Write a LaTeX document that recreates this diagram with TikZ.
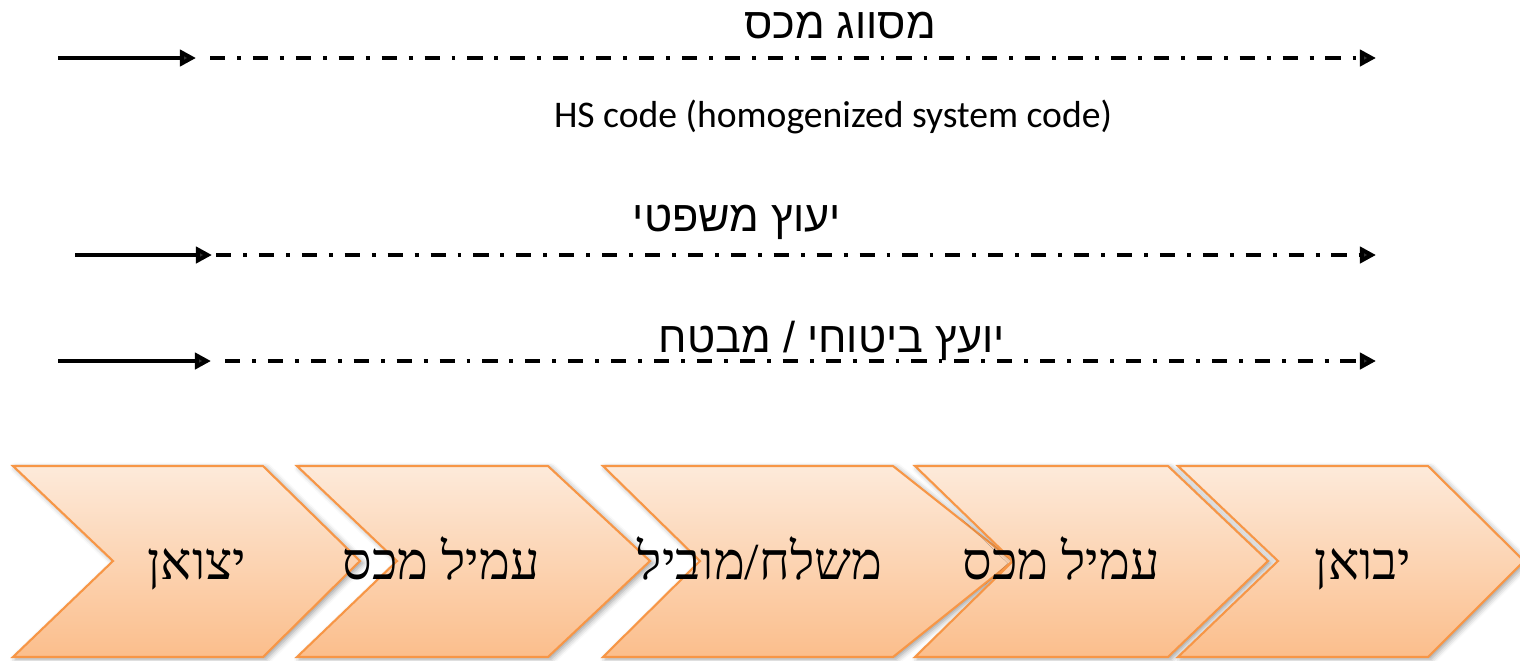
\documentclass[tikz,border=0pt]{standalone}
\usepackage{fontspec}
\usetikzlibrary{arrows.meta,shadows.blur}
\TeXXeTstate=1
\newfontfamily\hebserif[Script=Hebrew]{Liberation Serif}
\newfontfamily\hebsans[Script=Hebrew]{Liberation Sans}
\newfontfamily\latsans{Carlito}
\definecolor{chevline}{RGB}{247,150,70}
\definecolor{chevtop}{RGB}{253,234,218}
\definecolor{chevbot}{RGB}{251,190,140}
\tikzset{
  chevron/.style={draw=chevline, line width=0.6pt, line join=miter,
    top color=chevtop, bottom color=chevbot,
    blur shadow={shadow xshift=0.8pt, shadow yshift=-0.6pt,
      shadow blur radius=1.6pt, shadow opacity=40}},
  chevtext/.style={font=\hebserif\fontsize{14.8}{17}\selectfont, inner sep=0pt, anchor=base},
  roletext/.style={font=\hebsans\fontsize{12.3}{15}\selectfont, inner sep=0pt},
  solidleg/.style={line width=1.15pt, -{Triangle[length=4.6pt,width=4.6pt]}},
  dashleg/.style={line width=1.15pt, dash pattern=on 4.3pt off 3.4pt on 1.1pt off 3.4pt,
    -{Triangle[length=4.6pt,width=4.6pt]}}
}
% chevron: left x, notch x, top-right x, tip x (pixels)
\newcommand{\chevshape}[4]{%
  \path[chevron] (#1,466) -- (#3,466) -- (#4,561) -- (#3,657) -- (#1,657) -- (#2,561) -- cycle;}
\begin{document}
\begin{tikzpicture}[x=0.01cm,y=-0.01cm]
\useasboundingbox (0,0) rectangle (1520,660);

% process chain
\chevshape{13}{113}{263}{360}
\chevshape{297}{397}{548}{650}
\chevshape{603}{700}{893}{1013}
\chevshape{915}{1013}{1168}{1268}
\chevshape{1178}{1278}{1428}{1524}

\node[chevtext] (exporter) at (197,579) {\beginR יצואן\endR};
\node[chevtext] (brokerA) at (441,579) {\beginR עמיל מכס\endR};
\node[chevtext] (carrier) at (760,579) {\beginR משלח/מוביל\endR};
\node[chevtext] (brokerB) at (1061,579) {\beginR עמיל מכס\endR};
\node[chevtext] (importer) at (1363,579) {\beginR יבואן\endR};

% service lines
\coordinate (a1) at (58,58);   \coordinate (a2) at (196,58);
\coordinate (a3) at (210,58);  \coordinate (a4) at (1376,58);
\coordinate (b1) at (75,255);  \coordinate (b2) at (212,255);
\coordinate (b3) at (216,255); \coordinate (b4) at (1376,255);
\coordinate (c1) at (58,361);  \coordinate (c2) at (211,361);
\coordinate (c3) at (225,361); \coordinate (c4) at (1376,361);

\draw[solidleg] (a1) -- (a2);
\draw[dashleg] (a3) -- (a4);
\draw[solidleg] (b1) -- (b2);
\draw[dashleg] (b3) -- (b4);
\draw[solidleg] (c1) -- (c2);
\draw[dashleg] (c3) -- (c4);

\node[roletext] (classify) at (840,26) {\beginR מסווג מכס\endR};
\node[font=\latsans\fontsize{10.7}{13}\selectfont, inner sep=0pt] (hs) at (833,117) {HS code (homogenized system code)};
\node[roletext] (legal) at (737,222) {\beginR יעוץ משפטי\endR};
\node[roletext] (insure) at (832,341) {\beginR יועץ ביטוחי / מבטח\endR};
\end{tikzpicture}
\end{document}
